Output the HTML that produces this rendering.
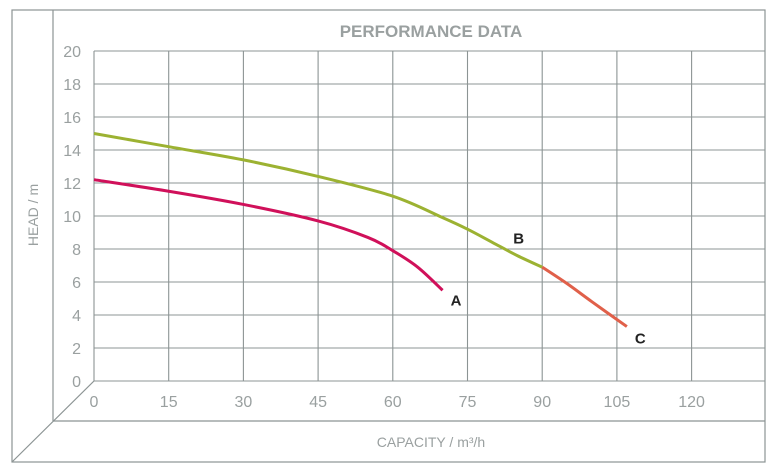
<!DOCTYPE html>
<html><head><meta charset="utf-8"><style>
html,body{margin:0;padding:0;background:#fff;}
svg{display:block;font-family:"Liberation Sans",sans-serif;}
</style></head><body>
<svg id="chart" width="773" height="472" viewBox="0 0 773 472">
<g stroke="#8c9494" stroke-width="1.2" fill="none">
<rect x="12" y="10" width="753" height="452"/>
<line x1="53" y1="10" x2="53" y2="421"/>
<line x1="53" y1="421" x2="765" y2="421"/>
<line x1="12" y1="462" x2="94" y2="381"/>
</g>
<text x="431" y="37" text-anchor="middle" font-size="17" font-weight="bold" fill="#9aa0a0">PERFORMANCE DATA</text>
<text transform="translate(38,215) rotate(-90)" text-anchor="middle" font-size="14" fill="#9aa0a0">HEAD / m</text>
<text x="431" y="447" text-anchor="middle" font-size="14" fill="#9aa0a0">CAPACITY / m³/h</text>
<g id="grid"></g><g id="series"></g><g id="labels"></g>
</svg>
<script>
const xTicks=[0,15,30,45,60,75,90,105,120];
const yTicks=[0,2,4,6,8,10,12,14,16,18,20];
const aQ=[0,15,30,45,55,60,65,70];
const aH=[12.2,11.5,10.7,9.7,8.7,7.9,6.9,5.5];
const bQ=[0,15,30,45,60,70,75,80,85,90];
const bH=[15,14.2,13.4,12.4,11.2,9.9,9.2,8.4,7.6,6.9];
const cQ=[90,95,100,107];
const cH=[6.9,5.9,4.8,3.3];
const NS="http://www.w3.org/2000/svg";
const x=q=>94+q*4.98;
const y=h=>381-h*16.5;
const grid=document.getElementById('grid');
function mk(t,a,p){const e=document.createElementNS(NS,t);for(const k in a)e.setAttribute(k,a[k]);p.appendChild(e);return e;}
yTicks.forEach(v=>{
 const l=mk('line',{x1:94,x2:765,y1:y(v),y2:y(v),stroke:'#8c9494','stroke-width':1.1},grid);
 
 
 const t=mk('text',{x:81,y:y(v)+6,'text-anchor':'end','font-size':16,fill:'#9aa0a0'},grid);
 t.textContent=v;
 
 
});
xTicks.forEach(v=>{
 const l=mk('line',{x1:x(v),x2:x(v),y1:y(20),y2:y(0),stroke:'#8c9494','stroke-width':1.1},grid);
 
 
 const t=mk('text',{x:x(v),y:407,'text-anchor':'middle','font-size':16,fill:'#9aa0a0'},grid);
 t.textContent=v;
 
 
});
function curve(Q,H){let d='M'+x(Q[0])+','+y(H[0]);
 for(let i=0;i<Q.length-1;i++){const p0=[x(Q[Math.max(0,i-1)]),y(H[Math.max(0,i-1)])],p1=[x(Q[i]),y(H[i])],p2=[x(Q[i+1]),y(H[i+1])],p3=[x(Q[Math.min(Q.length-1,i+2)]),y(H[Math.min(Q.length-1,i+2)])];
 d+=' C'+(p1[0]+(p2[0]-p0[0])/6)+','+(p1[1]+(p2[1]-p0[1])/6)+' '+(p2[0]-(p3[0]-p1[0])/6)+','+(p2[1]-(p3[1]-p1[1])/6)+' '+p2[0]+','+p2[1];}
 return d;}
const sg=document.getElementById('series');
const sA=mk('path',{d:curve(aQ,aH),stroke:'#d0105a','stroke-width':3,fill:'none'},sg);


const sB=mk('path',{d:curve(bQ,bH),stroke:'#9cb232','stroke-width':3,fill:'none'},sg);


const sC=mk('path',{d:curve(cQ,cH),stroke:'#e0604a','stroke-width':3,fill:'none'},sg);


const lg=document.getElementById('labels');
[['A',aQ,aH,8,10],['B',bQ.slice(0,9),bH.slice(0,9),-4,-17],['C',cQ,cH,8,12]].forEach(([n,Q,H,dx,dy])=>{
 const q=Q[Q.length-1],h=H[H.length-1];
 const t=mk('text',{x:x(q)+dx,y:y(h)+dy+5,'font-size':15,'font-weight':'bold',fill:'#222'},lg);
 t.textContent=n;
 
 
});
</script>
</body></html>
